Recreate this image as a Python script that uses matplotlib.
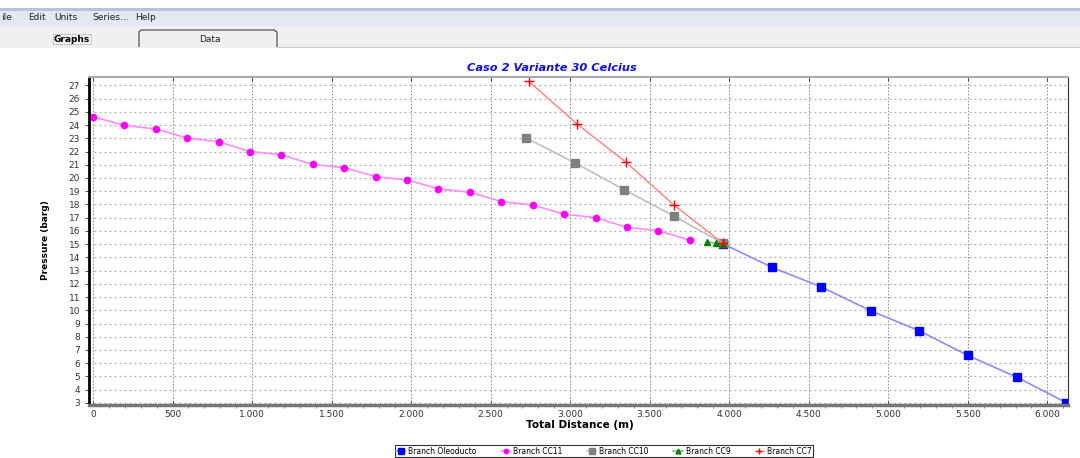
import matplotlib
matplotlib.use('Agg')
import matplotlib.pyplot as plt
from matplotlib.patches import Rectangle, Polygon
from matplotlib.lines import Line2D

# Series data (distance in m, pressure in barg)
oleo_x = [3960, 4270, 4580, 4890, 5195, 5500, 5810, 6120]
oleo_y = [15.03, 13.24, 11.76, 9.96, 8.45, 6.59, 4.93, 3.01]

cc11_x = [0, 197, 395, 592, 790, 987, 1185, 1382, 1580, 1777,
          1975, 2172, 2370, 2567, 2765, 2962, 3160, 3357, 3555, 3752]
cc11_y = [24.63, 23.98, 23.70, 23.02, 22.74, 22.00, 21.75, 21.02, 20.78, 20.10,
          19.85, 19.18, 18.92, 18.22, 17.95, 17.27, 17.00, 16.27, 16.01, 15.31]

cc10_x = [2720, 3030, 3340, 3650, 3960]
cc10_y = [23.04, 21.15, 19.11, 17.14, 15.06]

cc9_x = [3862, 3914, 3960]
cc9_y = [15.18, 15.08, 15.03]

cc7_x = [2740, 3045, 3350, 3655, 3960]
cc7_y = [27.30, 24.07, 21.20, 17.93, 15.08]

x_ticks = list(range(0, 6001, 500))
x_tick_labels = ['0', '500', '1.000', '1.500', '2.000', '2.500', '3.000',
                 '3.500', '4.000', '4.500', '5.000', '5.500', '6.000']

TITLE = 'Caso 2 Variante 30 Celcius'
MENU = ['ile', 'Edit', 'Units', 'Series...', 'Help']

W, H = 1080, 458
fig = plt.figure(figsize=(W / 100, H / 100), dpi=100)
fig.patch.set_facecolor('white')

def fx(px):
    return px / W

def fy(py):
    return 1 - py / H

# --- window chrome ---
fig.patches.append(Rectangle((0, fy(11)), 1, 3 / H, transform=fig.transFigure,
                             facecolor='#b7c3d6', edgecolor='none'))
fig.patches.append(Rectangle((0, fy(26)), 1, 15 / H, transform=fig.transFigure,
                             facecolor='#e3e8f4', edgecolor='none'))
fig.patches.append(Rectangle((0, fy(48)), 1, 22 / H, transform=fig.transFigure,
                             facecolor='#f0f0f0', edgecolor='none'))
menu_x = [0, 27, 53, 91, 134]
for mx, m in zip(menu_x, MENU):
    fig.text(fx(mx + 1), fy(18), m, fontsize=6.5, va='center', ha='left', color='#222222')
# Data tab outline
tab = Polygon([(fx(139), fy(47)), (fx(139), fy(32)), (fx(141), fy(30)),
               (fx(274), fy(30)), (fx(277), fy(32)), (fx(277), fy(47))],
              closed=False, transform=fig.transFigure, facecolor='none',
              edgecolor='#555555', linewidth=0.9)
fig.patches.append(tab)
fig.lines.append(Line2D([fx(277), fx(1080)], [fy(47), fy(47)], transform=fig.transFigure,
                        color='#cccccc', linewidth=0.8))
fig.text(fx(72), fy(39), 'Graphs', fontsize=6.5, fontweight='bold', ha='center', va='center',
         bbox=dict(boxstyle='square,pad=0.1', facecolor='none', edgecolor='#777777',
                   linestyle=':', linewidth=0.6))
fig.text(fx(210), fy(39), 'Data', fontsize=6.5, ha='center', va='center', color='#222222')

# --- chart ---
ax = fig.add_axes([fx(89), fy(405), fx(1068) - fx(89), fy(76.5) - fy(405)])

ax.plot(oleo_x, oleo_y, color='#8c8cff', linewidth=1.2, marker='s', markersize=6,
        markerfacecolor='#0000ff', markeredgecolor='#0000ff', label='Branch Oleoducto')
ax.plot(cc11_x, cc11_y, color='#ff8cff', linewidth=1.2, marker='o', markersize=4.5,
        markerfacecolor='#ff00ff', markeredgecolor='#ff00ff', label='Branch CC11')
ax.plot(cc10_x, cc10_y, color='#c0c0c0', linewidth=1.2, marker='s', markersize=5.5,
        markerfacecolor='#808080', markeredgecolor='#808080', label='Branch CC10')
ax.plot(cc9_x, cc9_y, color='#80c080', linewidth=1.2, marker='^', markersize=5,
        markerfacecolor='#008000', markeredgecolor='#008000', label='Branch CC9')
ax.plot(cc7_x, cc7_y, color='#ff8080', linewidth=1.0, marker='+', markersize=7,
        markeredgecolor='#ff0000', markeredgewidth=1.0, label='Branch CC7')

ax.set_xlim(-25, 6130)
ax.set_ylim(2.84, 27.67)
ax.set_xticks(x_ticks)
ax.set_xticklabels(x_tick_labels)
ax.set_xticks(range(0, 6101, 100), minor=True)
ax.set_yticks(range(3, 28))

ax.tick_params(axis='both', labelsize=6.5, colors='#333333', length=3, width=0.6)
ax.tick_params(axis='x', which='minor', length=2, width=0.5, colors='#555555')
ax.tick_params(axis='x', top=True, direction='in', which='major')
ax.tick_params(axis='x', which='minor', top=False)

ax.grid(True, axis='y', color='#b0b0b0', linestyle=(0, (1.5, 2.5)), linewidth=0.9)
ax.grid(True, axis='x', which='major', color='#808080', linestyle=(0, (2, 2)), linewidth=0.6)

ax.spines['left'].set_color('black')
ax.spines['left'].set_linewidth(2)
ax.spines['bottom'].set_color('#777777')
ax.spines['bottom'].set_linewidth(2.5)
ax.spines['top'].set_color('#aaaaaa')
ax.spines['top'].set_linewidth(1.5)
ax.spines['right'].set_color('#333333')
ax.spines['right'].set_linewidth(0.8)

fig.text(fx(552), fy(68), TITLE, fontsize=8.2, fontweight='bold', style='italic',
         color='#1010ee', ha='center', va='center')
fig.text(fx(46), fy(240), 'Pressure (barg)', fontsize=6.5, fontweight='bold',
         rotation=90, ha='center', va='center')
fig.text(fx(580), fy(425), 'Total Distance (m)', fontsize=7.5, fontweight='bold',
         ha='center', va='center')

leg = fig.legend(loc='center', bbox_to_anchor=(fx(604), fy(451)), ncol=5, fontsize=5.5,
                 frameon=True, fancybox=False, edgecolor='black', borderpad=0.2,
                 handlelength=1.2, handletextpad=0.4, columnspacing=3.2, markerscale=0.7)
leg.get_frame().set_linewidth(0.8)

plt.savefig('out.png', dpi=100)
plt.close()
